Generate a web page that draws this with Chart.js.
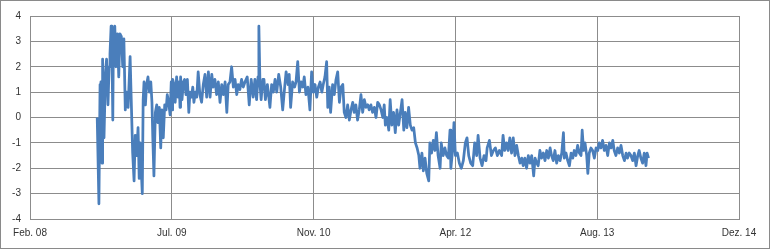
<!DOCTYPE html>
<html>
<head>
<meta charset="utf-8">
<script src="https://cdn.jsdelivr.net/npm/chart.js@4.4.1/dist/chart.umd.min.js"></script>
<style>
  html, body { margin: 0; padding: 0; background: #fff; }
  #wrap { width: 770px; height: 249px; box-sizing: border-box; border: 1px solid #8a8a8a; }
  #wrap canvas { display: block; }
</style>
</head>
<body>
<div id="wrap"><canvas id="myChart" width="768" height="247"></canvas></div>
<script>
// x axis: days since the first axis label (Feb. 08), one label every 500 days
var xLabels = ["Feb. 08", "Jul. 09", "Nov. 10", "Apr. 12", "Aug. 13", "Dez. 14"];
var yTicks = [-4, -3, -2, -1, 0, 1, 2, 3, 4];

var days = [
  237, 243, 247, 250, 254, 256, 261, 266, 270, 275, 279, 282, 286, 289, 292, 294, 299, 303, 308, 313,
  317, 322, 327, 331, 336, 341, 346, 353, 357, 362, 367, 371, 376, 381, 385, 388, 392, 396, 399, 402,
  407, 411, 416, 421, 426, 430, 433, 437, 442, 447, 451, 456, 461, 465, 470, 475, 480, 484, 489, 494,
  498, 501, 503, 508, 512, 517, 522, 526, 529, 531, 536, 541, 545, 550, 555, 560, 564, 569, 574, 578,
  583, 588, 593, 599, 605, 611, 617, 623, 629, 635, 641, 646, 652, 658, 664, 670, 676, 682, 688, 694,
  699, 705, 711, 717, 723, 729, 734, 740, 746, 752, 758, 766, 773, 780, 787, 793, 799, 804, 807, 811,
  815, 821, 825, 830, 837, 842, 846, 852, 858, 864, 870, 877, 884, 891, 898, 903, 910, 914, 919, 926,
  933, 938, 944, 950, 956, 962, 967, 973, 980, 987, 993, 999, 1005, 1011, 1017, 1023, 1029, 1034, 1040, 1046,
  1050, 1055, 1060, 1067, 1073, 1079, 1085, 1091, 1097, 1103, 1108, 1114, 1120, 1126, 1132, 1138, 1143, 1149, 1155, 1161,
  1167, 1173, 1179, 1185, 1191, 1196, 1202, 1208, 1214, 1220, 1226, 1232, 1238, 1244, 1249, 1253, 1259, 1265, 1270, 1276,
  1282, 1288, 1294, 1300, 1306, 1312, 1318, 1323, 1329, 1335, 1341, 1347, 1353, 1359, 1365, 1371, 1375, 1382, 1387, 1393,
  1399, 1406, 1410, 1416, 1422, 1428, 1433, 1439, 1446, 1450, 1457, 1463, 1469, 1475, 1481, 1484, 1490, 1495, 1500, 1507,
  1514, 1521, 1528, 1535, 1541, 1547, 1554, 1561, 1568, 1575, 1580, 1587, 1594, 1601, 1608, 1612, 1620, 1627, 1634, 1641,
  1648, 1655, 1663, 1668, 1674, 1680, 1686, 1692, 1698, 1704, 1710, 1716, 1722, 1728, 1734, 1739, 1745, 1751, 1757, 1763,
  1769, 1776, 1781, 1787, 1792, 1798, 1804, 1810, 1816, 1822, 1828, 1834, 1839, 1845, 1851, 1857, 1863, 1869, 1875, 1881,
  1884, 1890, 1896, 1902, 1908, 1914, 1919, 1925, 1931, 1937, 1943, 1947, 1952, 1957, 1963, 1967, 1972, 1978, 1984, 1990,
  1996, 2002, 2007, 2013, 2019, 2025, 2031, 2037, 2043, 2049, 2055, 2060, 2066, 2072, 2078, 2084, 2090, 2096, 2102, 2107,
  2113, 2119, 2125, 2131, 2137, 2143, 2148, 2154, 2160, 2166, 2172, 2176, 2181
];

var values = [
  0.0, -3.4, 1.3, 1.4, -1.8, 2.3, -0.8, 1.7, 2.3, 0.5, 2.0, 2.5, 3.6, 2.5, -0.1, 3.0, 3.6, 2.0, 3.3, 1.6,
  3.3, 3.2, 2.0, 3.1, 0.3, 1.0, 0.4, 2.4, 0.7, -1.4, -2.5, -0.7, -1.5, -0.4, -2.4, -1.0, -2.0, -3.0, 0.7, 1.4,
  0.5, 1.3, 1.6, 1.0, 1.4, 0.6, -0.8, -2.3, 0.2, 0.5, -0.2, 0.4, -1.2, 0.3, -0.8, 0.5, 0.3, 0.9, 0.6, 0.1,
  1.4, 0.3, 1.5, 1.3, 0.6, 1.6, 0.8, 1.4, 0.4, 1.6, 0.7, 1.4, 1.5, 0.9, 1.5, 0.2, 1.0, 0.8, 1.2, 0.6,
  1.0, 0.8, 1.8, 0.9, 0.6, 1.3, 1.7, 0.8, 1.8, 0.8, 1.7, 1.2, 1.5, 0.9, 1.4, 0.6, 1.3, 0.9, 1.4, 0.2,
  1.3, 1.4, 2.0, 1.2, 1.5, 0.9, 1.3, 1.1, 1.5, 1.2, 1.4, 1.6, 0.5, 1.5, 0.8, 1.5, 0.7, 1.6, 3.6, 1.3,
  0.7, 1.5, 1.5, 0.7, 1.3, 0.8, 0.4, 1.3, 1.0, 1.5, 1.0, 1.7, 1.2, 0.3, 1.2, 1.8, 1.3, 1.7, 0.4, 1.4,
  1.2, 1.4, 2.2, 1.0, 1.4, 1.2, 1.6, 0.9, 1.2, 0.3, 1.8, 1.0, 1.3, 0.8, 1.2, 1.4, 1.0, 1.3, 1.6, 2.2,
  0.4, 1.2, 0.2, 1.3, 0.9, 1.5, 1.8, 0.6, 1.2, 1.3, 0.2, 0.0, 0.5, -0.1, 0.3, 0.6, 0.2, 0.5, -0.1, 0.3,
  0.9, 0.2, 0.7, 0.4, 0.5, 0.3, 0.5, 0.2, 0.4, 0.0, 0.6, 0.5, 0.3, 0.0, 0.5, -0.3, 0.0, -0.5, 0.7, -0.3,
  0.2, -0.6, 0.3, -0.3, 0.2, 0.7, -0.5, 0.2, -0.4, 0.4, -0.3, -0.5, -0.4, -1.0, -1.2, -1.5, -2.0, -1.4, -2.1, -1.6,
  -2.2, -2.5, -1.0, -1.4, -0.9, -1.3, -0.6, -1.5, -2.0, -1.0, -1.5, -1.2, -1.5, -1.6, -0.5, -2.0, -1.3, -0.2, -1.5, -1.4,
  -1.8, -2.0, -1.7, -1.0, -0.8, -1.5, -1.8, -1.9, -1.0, -1.5, -0.7, -1.6, -1.9, -1.5, -1.7, -1.2, -0.9, -1.5, -1.3, -1.2,
  -1.5, -1.3, -1.5, -0.7, -1.3, -1.0, -1.3, -0.8, -1.4, -0.8, -1.5, -1.1, -1.5, -1.8, -1.6, -1.9, -1.6, -2.0, -1.5, -1.8,
  -1.5, -2.3, -1.6, -1.8, -1.9, -1.3, -1.6, -1.4, -1.7, -1.3, -1.6, -1.2, -1.5, -1.7, -1.3, -1.8, -1.5, -1.7, -1.4, -0.6,
  -1.6, -1.4, -1.7, -1.9, -1.4, -1.6, -1.3, -1.5, -1.1, -1.4, -1.5, -0.5, -1.3, -1.0, -1.5, -2.2, -1.4, -1.2, -1.3, -1.6,
  -1.2, -1.3, -1.0, -1.2, -0.9, -1.3, -1.1, -1.5, -1.0, -1.2, -0.9, -1.3, -1.5, -1.2, -1.4, -1.1, -1.5, -1.7, -1.4, -1.6,
  -1.4, -1.5, -1.7, -1.4, -1.9, -1.5, -1.3, -1.6, -1.8, -1.4, -1.9, -1.4, -1.6
];

var points = [];
for (var i = 0; i < days.length; i++) {
  points.push({ x: days[i], y: values[i] });
}

var gridColor = "#8c8c8c";
var labelFont = { family: "'Liberation Sans', Arial, sans-serif", size: 10 };

var ctx = document.getElementById("myChart").getContext("2d");
var myChart = new Chart(ctx, {
  type: "line",
  data: {
    datasets: [
      {
        data: points,
        borderColor: "#4a7ebb",
        borderWidth: 2.75,
        borderJoinStyle: "round",
        pointRadius: 0,
        tension: 0,
        fill: false,
      },
    ],
  },
  options: {
    responsive: false,
    animation: false,
    layout: { padding: { top: 11, right: 30, left: 0, bottom: 0 } },
    plugins: { legend: { display: false }, tooltip: { enabled: false } },
    scales: {
      x: {
        type: "linear",
        min: 0,
        max: 2500,
        afterFit: function (scale) { scale.height = 29; },
        afterBuildTicks: function (scale) {
          scale.ticks = xLabels.map(function (l, i) { return { value: i * 500 }; });
        },
        ticks: {
          color: "#333333",
          font: labelFont,
          padding: 8,
          maxRotation: 0,
          autoSkip: false,
          callback: function (value) { return xLabels[Math.round(value / 500)]; },
        },
        grid: { color: gridColor, drawTicks: false },
        border: { color: gridColor },
      },
      y: {
        min: yTicks[0],
        max: yTicks[yTicks.length - 1],
        afterFit: function (scale) { scale.width = 29; },
        ticks: {
          stepSize: 1,
          color: "#333333",
          font: labelFont,
          padding: 9,
        },
        grid: { color: gridColor, drawTicks: false },
        border: { color: gridColor },
      },
    },
  },
});
</script>
</body>
</html>
